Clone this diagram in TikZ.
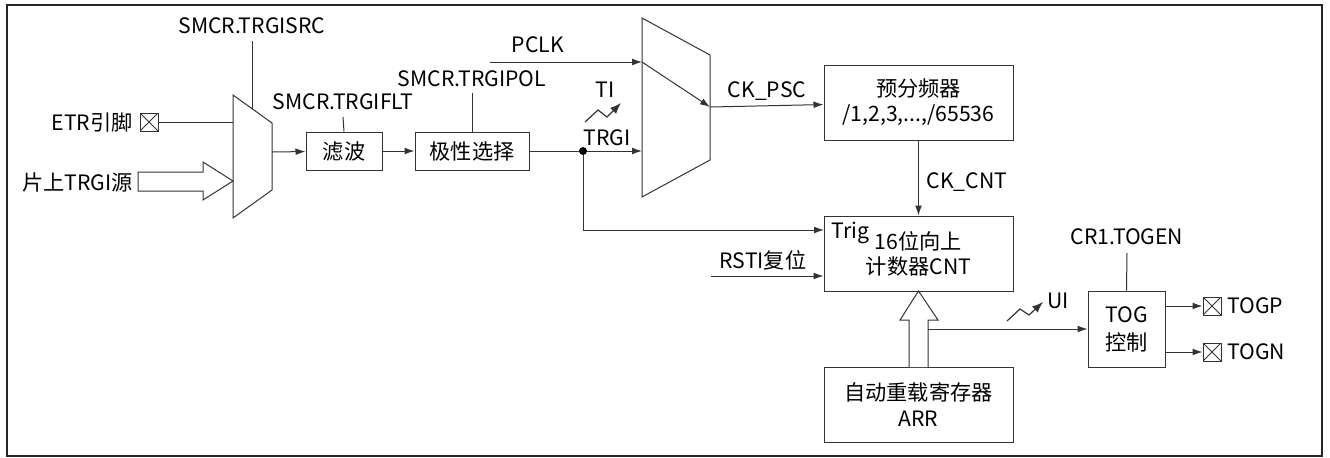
\documentclass[tikz,border=0pt]{standalone}
\usepackage{fontspec}
\setmainfont{Noto Sans CJK SC}
\usepackage{tikz}
\usetikzlibrary{arrows.meta, positioning}

\begin{document}
\begin{tikzpicture}[
        x=0.5pt, y=-0.5pt,
        every node/.style={font=\fontsize{10.6pt}{12.5pt}\selectfont, inner sep=0pt},
        block/.style={draw=black!80, line width=0.5pt, align=center},
        padbox/.style={draw=black!80, line width=0.5pt, minimum size=9pt,
            path picture={\draw[black!80, line width=0.4pt]
                (path picture bounding box.south west) -- (path picture bounding box.north east)
                (path picture bounding box.north west) -- (path picture bounding box.south east);}},
        wire/.style={draw=black!80, line width=0.5pt},
        arrow/.style={wire, -{Latex[length=5pt, width=3.4pt]}},
        edgemark/.style={wire, line width=0.6pt, -{Latex[length=5.5pt, width=4.2pt]}},
        hollow/.style={draw=black!80, line width=0.5pt, fill=white}
    ]
        \useasboundingbox (0,0) rectangle (1330,457);
        \draw[black!85, line width=1pt] (7,5) rectangle (1322,456);

        % Inputs
        \node (etrtext) [anchor=east] at (133,122) {ETR引脚};
        \node (etr) [padbox] at (149,122) {};
        \node (chiptext) [anchor=east] at (133,182) {片上TRGI源};

        % Multiplexers
        \draw[wire] (233,95) -- (272,123) -- (272,190) -- (233,218) -- cycle;
        \coordinate (mux1in1) at (233,122);
        \coordinate (mux1out) at (272,152);
        \coordinate (mux1sel) at (252,109);
        \draw[wire] (642,18) -- (710,55) -- (710,160) -- (642,197) -- cycle;
        \coordinate (mux2in1) at (642,62);
        \coordinate (mux2in2) at (642,151);
        \coordinate (mux2out) at (710,107);

        % Blocks
        \node (filt) [block, minimum width=38pt, minimum height=19pt] at (344,151) {滤波};
        \node (pol) [block, minimum width=57pt, minimum height=19pt] at (472,151) {极性选择};
        \node (psc) [block, minimum width=94.5pt, minimum height=37.5pt] at (918.5,102.5) {预分频器\\/1,2,3,...,/65536};
        \node (cnt) [block, minimum width=94.5pt, minimum height=37.5pt] at (918.5,253.5) {16位向上\\计数器CNT};
        \node (arr) [block, minimum width=94.5pt, minimum height=37.5pt, font=\fontsize{10.6pt}{13pt}\selectfont] at (918.5,404.5) {自动重载寄存器\\ARR};
        \node (tog) [block, minimum width=38.5pt, minimum height=38pt, font=\fontsize{10.6pt}{14pt}\selectfont] at (1126.5,329) {TOG\\控制};
        \node (togp) [padbox] at (1212,306) {};
        \node (togn) [padbox] at (1212,352) {};
        \node (dot) [circle, fill=black, minimum size=4pt] at (583,151) {};

        % Labels
        \node (srclbl) at (252,26) {SMCR.TRGISRC};
        \node (fltlbl) at (343,102) {SMCR.TRGIFLT};
        \node (pollbl) at (472,79) {SMCR.TRGIPOL};
        \node (pclklbl) at (538,45) {PCLK};
        \node (tilbl) at (605,90) {TI};
        \node (trgilbl) at (607,138) {TRGI};
        \node (psclbl) at (767,91) {CK\_PSC};
        \node (cntlbl) at (967,182) {CK\_CNT};
        \node (triglbl) [anchor=west] at (831,233) {Trig};
        \node (rstlbl) at (763,260) {RSTI复位};
        \node (uilbl) [anchor=west] at (1047,301) {UI};
        \node (toglbl) at (1127,237) {CR1.TOGEN};
        \node (togptext) [anchor=west] at (1227,306) {TOGP};
        \node (togntext) [anchor=west] at (1227,352) {TOGN};

        % Free ends
        \coordinate (srctop) at (252,41);
        \coordinate (flttop) at (343,117);
        \coordinate (poltop) at (472,93);
        \coordinate (togtop) at (1127,253);
        \coordinate (pclk) at (490,62);
        \coordinate (rsti) at (711,276);
        \coordinate (trig) at (824,230);
        \coordinate (uistart) at (928,329);

        % Control lines
        \draw[wire] (srctop) -- (mux1sel);
        \draw[wire] (flttop) -- (filt.north);
        \draw[wire] (poltop) -- (pol.north);
        \draw[wire] (togtop) -- (tog.north);

        % Signal path
        \draw[wire] (etr) -- (mux1in1);
        \draw[hollow] (138,172) -- (203,172) -- (203,162) -- (233,181) -- (203,200) -- (203,191) -- (138,191) -- cycle;
        \draw[arrow] (mux1out) -- (filt);
        \draw[arrow] (filt) -- (pol);
        \draw[wire] (pol) -- (dot);
        \draw[arrow] (dot) -- (mux2in2);
        \draw[arrow] (dot) |- (trig);
        \draw[arrow] (pclk) -- (mux2in1);
        \draw[arrow] (mux2in1) -- (mux2out);
        \draw[arrow] (mux2out) -- (psc);
        \draw[arrow] (psc) -- (cnt);
        \draw[arrow] (rsti) -- (rsti -| cnt.west);
        \draw[hollow] (909,367) -- (909,320) -- (900,320) -- (918.5,291) -- (938,320) -- (928,320) -- (928,367);
        \draw[arrow] (uistart) -- (tog);
        \draw[arrow] (tog.east |- togp) -- (togp);
        \draw[arrow] (tog.east |- togn) -- (togn);

        % Edge marks
        \draw[edgemark] (585,122) -- (598,110) -- (607,117) -- (621,103);
        \draw[edgemark] (1007,321) -- (1020,309) -- (1029,315) -- (1043,302);
\end{tikzpicture}
\end{document}
